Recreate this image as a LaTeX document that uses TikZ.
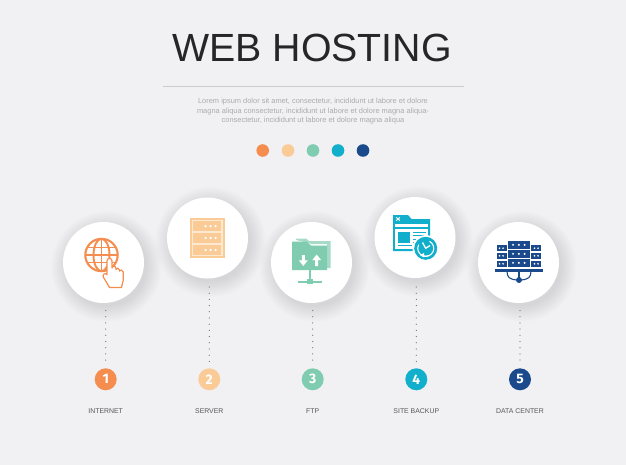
\documentclass[tikz,border=0pt]{standalone}
\usepackage{fontspec}
\setmainfont{Liberation Sans}
\newfontfamily\badgefont{Fira Sans}
\definecolor{bgc}{HTML}{F1F1F4}
\definecolor{oc}{HTML}{F58D4E}
\definecolor{pc}{HTML}{FBCB97}
\definecolor{gc}{HTML}{7FCCB1}
\definecolor{tc}{HTML}{11AFCB}
\definecolor{nc}{HTML}{1B4A8C}
\tikzset{
  disc/.style={circle,fill=white,minimum size=81pt,inner sep=0pt},
  badge/.style={circle,minimum size=22pt,inner sep=0pt,text=white,font=\badgefont\fontsize{13.8}{14}\selectfont\bfseries},
  swatch/.style={circle,minimum size=12.6pt,inner sep=0pt},
  caption/.style={font=\fontsize{6.9}{8}\selectfont,text=black!66,inner sep=0pt},
  leader/.style={line width=1.25pt,black!55,dash pattern=on 0pt off 6.2pt,line cap=round},
}
\begin{document}
\begin{tikzpicture}[x=1pt,y=-1pt]
\useasboundingbox (0,0) rectangle (626,465);
\fill[bgc] (0,0) rectangle (626,465);
% title block
\node[inner sep=0pt,text=black!85,font=\fontsize{39.3}{44}\selectfont] (title) at (312,48) {WEB HOSTING};
\coordinate (ruleL) at (163,86.5);
\coordinate (ruleR) at (464,86.5);
\draw[line width=0.8pt,color=black!20] (ruleL) -- (ruleR);
\node[inner sep=0pt,align=center,text=black!33,font=\fontsize{7.45}{9.3}\selectfont] (para) at (313,111.3)
 {Lorem ipsum dolor sit amet, consectetur, incididunt ut labore et dolore\\
  magna aliqua consectetur, incididunt ut labore et dolore magna aliqua-\\
  consectetur, incididunt ut labore et dolore magna aliqua};
\node[swatch,fill=oc] (s1) at (262.7,150.5) {};
\node[swatch,fill=pc] (s2) at (288,150.5) {};
\node[swatch,fill=gc] (s3) at (313,150.5) {};
\node[swatch,fill=tc] (s4) at (338,150.5) {};
\node[swatch,fill=nc] (s5) at (363,150.5) {};
% shadows
\foreach \cx/\cy in {103.5/262.5,207.5/238,311.5/262.5,415/237.5,518.5/262.5}{
  \foreach \r in {40,40.6,...,56}{
    \fill[black,opacity=0.0024] (\cx+3,\cy+4) circle[radius=\r];
  }
}
% discs
\node[disc] (d1) at (103.5,262.5) {};
\node[disc] (d2) at (207.5,238) {};
\node[disc] (d3) at (311.5,262.5) {};
\node[disc] (d4) at (415,237.5) {};
\node[disc] (d5) at (518.5,262.5) {};
% badges
\node[badge,fill=oc] (b1) at (105.7,379.3) {1};
\node[badge,fill=pc] (b2) at (209.3,379.3) {2};
\node[badge,fill=gc] (b3) at (312.7,379.3) {3};
\node[badge,fill=tc] (b4) at (416.3,379.3) {4};
\node[badge,fill=nc] (b5) at (520,379.3) {5};
% leaders
\coordinate (t1) at (105.7,310.5);
\coordinate (t2) at (209.3,287);
\coordinate (t3) at (312.7,310.5);
\coordinate (t4) at (416.3,287);
\coordinate (t5) at (520,310.5);
\foreach \i in {1,...,5}{\draw[leader] (t\i) -- ([yshift=6pt]b\i.north);}
% captions
\node[caption] (c1) at (105.7,411.5) {INTERNET};
\node[caption] (c2) at (209.3,411.5) {SERVER};
\node[caption] (c3) at (312.7,411.5) {FTP};
\node[caption] (c4) at (416.3,411.5) {SITE BACKUP};
\node[caption] (c5) at (520,411.5) {DATA CENTER};
% icon 1: globe + hand
\begin{scope}
 \def\gx{101.5}\def\gy{255}
 \draw[oc,line width=2.1pt] (\gx,\gy) circle[radius=16.2];
 \begin{scope}
  \clip (\gx,\gy) circle[radius=16.2];
  \draw[oc,line width=1.9pt] (\gx-20,\gy-7.5) -- (\gx+20,\gy-7.5) (\gx-20,\gy) -- (\gx+20,\gy) (\gx-20,\gy+7.5) -- (\gx+20,\gy+7.5);
  \draw[oc,line width=1.9pt] (\gx,\gy-17) -- (\gx,\gy+17);
  \draw[oc,line width=1.9pt] (\gx,\gy) ellipse[x radius=8,y radius=16.2];
 \end{scope}
 \draw[oc,fill=white,line width=1.2pt,line join=round]
  (107,274) -- (107,261) .. controls (107,257.5) and (112,257.5) .. (112,261) -- (112,268)
  .. controls (112,265.5) and (116,265.5) .. (116,268.5) -- (116,269.5)
  .. controls (116,267.5) and (119.5,267.5) .. (119.5,270) -- (119.5,271)
  .. controls (119.5,269.5) and (123.3,269.5) .. (123.3,272) -- (123.3,280) -- (121.5,287.5) -- (109.5,287.5)
  -- (103.3,277) .. controls (102.2,274.5) and (105,272.5) .. (107,274.5) -- cycle;
\end{scope}
% icon 2: server
\begin{scope}
 \fill[pc] (190,218) rectangle (224.7,258);
 \fill[white!55!pc] (192.2,220.2) rectangle (222.5,255.8);
 \foreach \y in {221.2,233,245}{
  \fill[pc] (193.3,\y) rectangle (221.3,\y+10);
  \foreach \x in {205.5,210.5,215.5}{\fill[white] (\x,\y+5) circle[radius=1.25];}
 }
\end{scope}
% icon 3: folder
\begin{scope}
 \fill[gc!70!white] (296,240) -- (296,238.5) -- (306,238.5) -- (309,241) -- (330.5,241) -- (330.5,268) -- (327,268) -- (327,244) -- (312,244) -- cycle;
 \fill[gc] (292,270) -- (292,241.5) -- (306.5,241.5) -- (311,245.5) -- (327,245.5) -- (327,270) -- cycle;
 \fill[white] (303.3,266) -- (298.8,260.3) -- (301.8,260.3) -- (301.8,255) -- (304.8,255) -- (304.8,260.3) -- (307.8,260.3) -- cycle;
 \fill[white] (316.7,254.5) -- (321.2,260.2) -- (318.2,260.2) -- (318.2,266) -- (315.2,266) -- (315.2,260.2) -- (312.2,260.2) -- cycle;
 \fill[gc] (308.6,270) rectangle (311.2,279);
 \fill[gc] (298,280.5) rectangle (321.5,282.8);
 \fill[gc] (307.2,278.5) rectangle (312.6,284.3);
\end{scope}
% icon 4: window + clock
\begin{scope}
 \fill[tc] (393,215) -- (408,215) -- (411.5,219) -- (430,219) -- (430,251) -- (393,251) -- cycle;
 \draw[white,line width=1pt] (396.3,217.4) -- (399.9,220.6) (399.9,217.4) -- (396.3,220.6);
 \fill[white] (395.3,223.5) rectangle (427.7,248.8);
 \fill[tc] (395.3,226.5) rectangle (427.7,228.8);
 \fill[tc] (398,231.5) rectangle (410,243);
 \foreach \y in {231.5,235,238.5,242}{\fill[tc] (412.5,\y) rectangle (425.5,\y+1.4);}
 \fill[tc] (398,245) rectangle (412,246.4);
 \fill[white] (425.7,248.3) circle[radius=13.2];
 \fill[tc] (425.7,248.3) circle[radius=11.5];
 \draw[white,line width=1.1pt,line cap=round] (418.5,245) arc[start angle=205,end angle=-60,radius=8];
 \draw[white,line width=1.1pt] (429.7,255.3) arc[start angle=60,end angle=115,radius=8];
 \fill[white] (424,253) -- (420,255.2) -- (424,257.5) -- cycle;
 \draw[white,line width=1.3pt] (422.5,242.5) -- (425.7,248.3) -- (430,245.5);
\end{scope}
% icon 5: data centre
\begin{scope}
 \foreach \y in {241,250,259}{
  \fill[nc] (507.7,\y) rectangle (530,\y+7.7);
  \foreach \x in {513,518.8,524.6}{\fill[white] (\x,\y+3.85) circle[radius=1.1];}
 }
 \foreach \y in {245.3,253,261}{
  \fill[nc] (496.7,\y) rectangle (507,\y+5.7);
  \fill[nc] (531,\y) rectangle (541,\y+5.7);
  \foreach \x in {499.5,503}{\fill[white] (\x,\y+2.85) circle[radius=0.9];}
  \foreach \x in {534.5,538}{\fill[white] (\x,\y+2.85) circle[radius=0.9];}
 }
 \fill[nc] (495,269.3) rectangle (542.5,272);
 \draw[nc,line width=1.1pt] (507,271) .. controls (507,277) and (509,280) .. (519,280) .. controls (529,280) and (531,277) .. (531,271);
 \draw[nc,line width=1.1pt] (519,271) -- (519,280);
 \fill[nc] (519,280) circle[radius=3];
\end{scope}
\end{tikzpicture}
\end{document}
